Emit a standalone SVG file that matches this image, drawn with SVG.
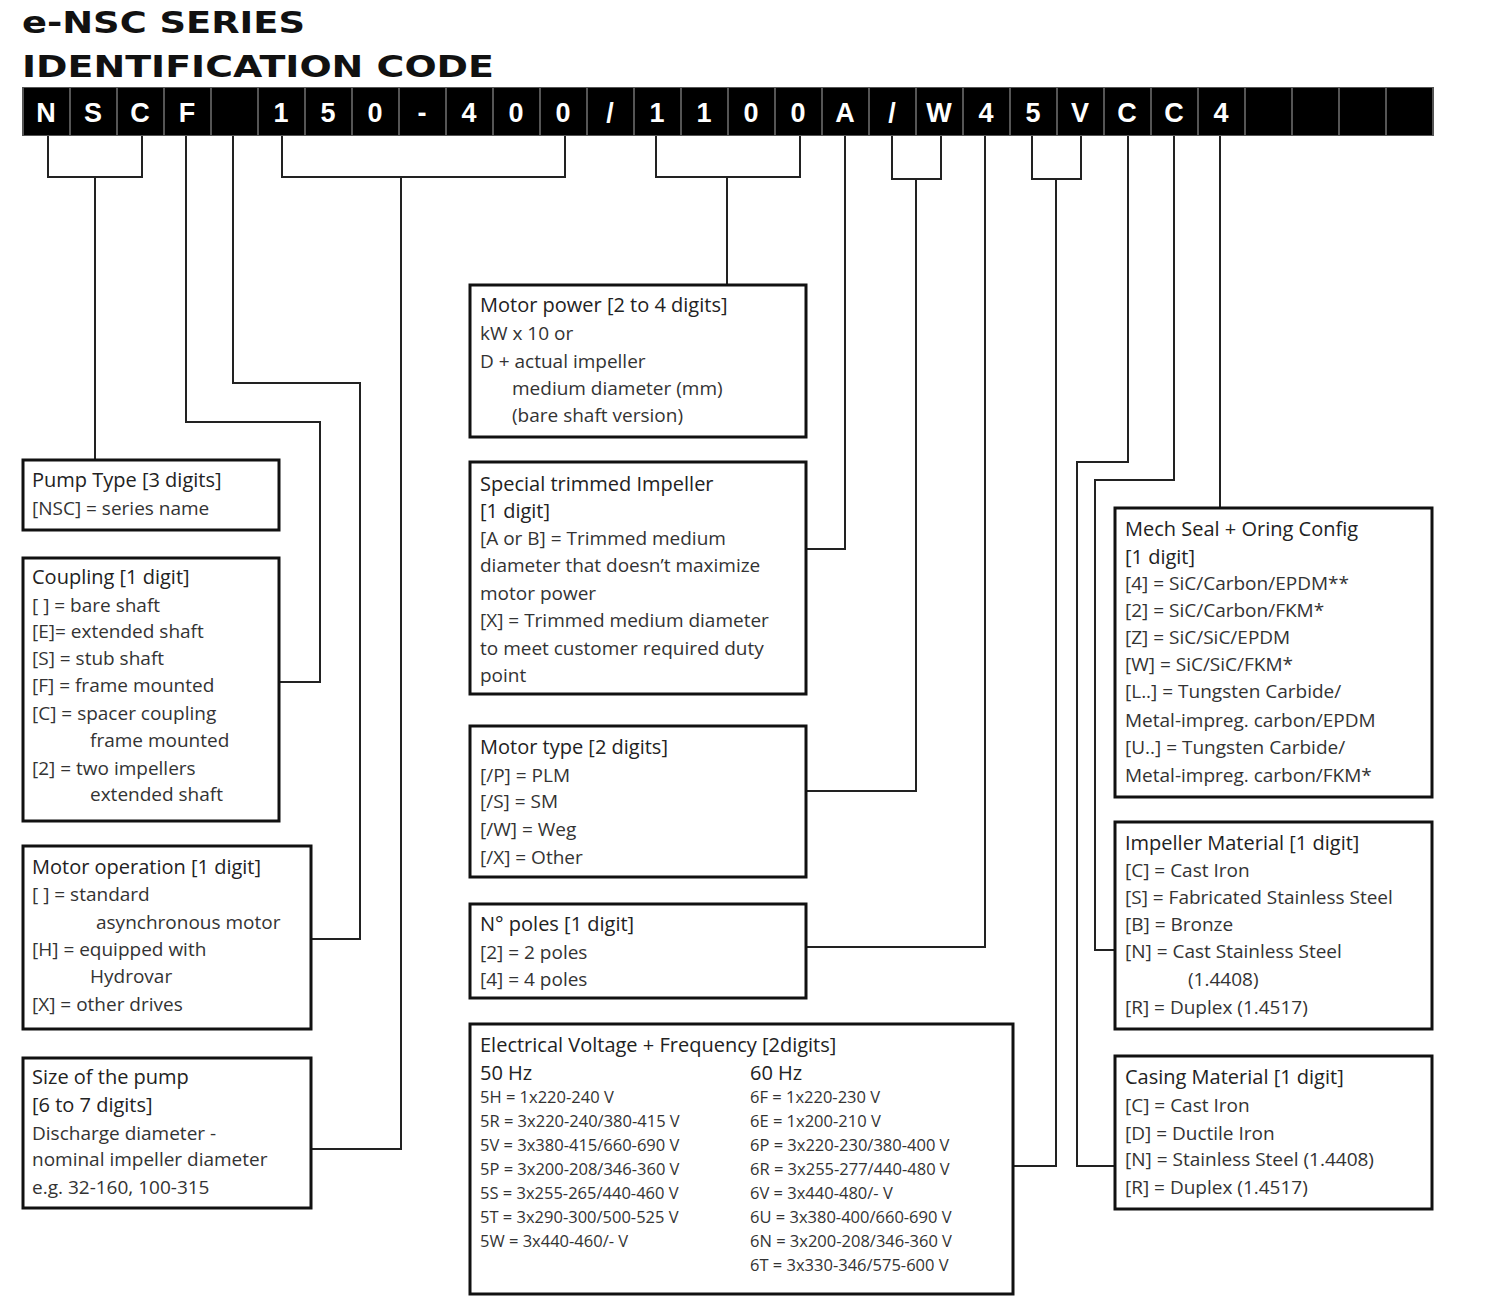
<svg xmlns="http://www.w3.org/2000/svg" width="1500" height="1314" viewBox="0 0 1500 1314">
<style>
.bg{fill:#fff}
.cell{fill:#000}
.ct{fill:#fff;font-family:"Liberation Sans",Arial,sans-serif;font-weight:bold;font-size:27px;text-anchor:middle}
.title{font-family:"DejaVu Sans",Verdana,sans-serif;font-weight:bold;font-size:31px;fill:#111}
.box{fill:#fff;stroke:#111;stroke-width:3}
.sh{fill:none;stroke:#bbb;stroke-width:1.5}
.t{font-family:"Open Sans","Noto Sans",sans-serif;font-size:19px;fill:#333}
.h{font-family:"Open Sans","Noto Sans",sans-serif;font-size:20px;fill:#222}
.s{font-family:"Open Sans","Noto Sans",sans-serif;font-size:16.5px;fill:#333}
.c path{fill:none;stroke:#222;stroke-width:2}
</style>
<rect class="bg" width="1500" height="1314"/>
<text class="title" x="22" y="33" textLength="283" lengthAdjust="spacingAndGlyphs">e-NSC SERIES</text>
<text class="title" x="22" y="77" textLength="472" lengthAdjust="spacingAndGlyphs">IDENTIFICATION CODE</text>
<g id="codebar">
<rect x="22" y="87" width="1412" height="49" fill="#555"/>
<g class="cell">
<rect x="24" y="88" width="45" height="47"/><rect x="71" y="88" width="45" height="47"/><rect x="118" y="88" width="45" height="47"/><rect x="165" y="88" width="45" height="47"/><rect x="212" y="88" width="45" height="47"/><rect x="259" y="88" width="45" height="47"/><rect x="306" y="88" width="45" height="47"/><rect x="353" y="88" width="45" height="47"/><rect x="400" y="88" width="45" height="47"/><rect x="447" y="88" width="45" height="47"/><rect x="494" y="88" width="45" height="47"/><rect x="541" y="88" width="45" height="47"/><rect x="588" y="88" width="45" height="47"/><rect x="635" y="88" width="45" height="47"/><rect x="682" y="88" width="45" height="47"/><rect x="729" y="88" width="45" height="47"/><rect x="776" y="88" width="45" height="47"/><rect x="823" y="88" width="45" height="47"/><rect x="870" y="88" width="45" height="47"/><rect x="917" y="88" width="45" height="47"/><rect x="964" y="88" width="45" height="47"/><rect x="1011" y="88" width="45" height="47"/><rect x="1058" y="88" width="45" height="47"/><rect x="1105" y="88" width="45" height="47"/><rect x="1152" y="88" width="45" height="47"/><rect x="1199" y="88" width="45" height="47"/><rect x="1246" y="88" width="45" height="47"/><rect x="1293" y="88" width="45" height="47"/><rect x="1340" y="88" width="45" height="47"/><rect x="1387" y="88" width="45" height="47"/>
</g>
<text class="ct" y="122"><tspan x="46">N</tspan><tspan x="93">S</tspan><tspan x="140">C</tspan><tspan x="187">F</tspan><tspan x="281">1</tspan><tspan x="328">5</tspan><tspan x="375">0</tspan><tspan x="422">-</tspan><tspan x="469">4</tspan><tspan x="516">0</tspan><tspan x="563">0</tspan><tspan x="610">/</tspan><tspan x="657">1</tspan><tspan x="704">1</tspan><tspan x="751">0</tspan><tspan x="798">0</tspan><tspan x="845">A</tspan><tspan x="892">/</tspan><tspan x="939">W</tspan><tspan x="986">4</tspan><tspan x="1033">5</tspan><tspan x="1080">V</tspan><tspan x="1127">C</tspan><tspan x="1174">C</tspan><tspan x="1221">4</tspan></text>
</g>
<g id="connectors" class="c">
<path d="M48 136V177H142V136M95 177V460"/>
<path d="M186 136V422H320V682H279"/>
<path d="M233 136V383H360V939H311"/>
<path d="M282 136V177H565V136M401 177V1149H311"/>
<path d="M656 136V177H800V136M727 177V285"/>
<path d="M845 136V549H806"/>
<path d="M892 136V179H941V136M916 179V791H806"/>
<path d="M985 136V947H806"/>
<path d="M1032 136V179H1081V136M1056 179V1166H1013"/>
<path d="M1128 136V462H1077V1166H1115"/>
<path d="M1174 136V480H1095V950H1115"/>
<path d="M1220 136V508"/>
</g>
<g id="pump-type"><rect class="box" x="23" y="460" width="256" height="70"/>
<text class="h" x="32" y="487">Pump Type [3 digits]</text><text class="t" x="32" y="515">[NSC] = series name</text></g>
<g id="coupling"><rect class="box" x="23" y="558" width="256" height="263"/>
<text class="h" x="32" y="584">Coupling [1 digit]</text>
<text class="t" x="32" y="612">[ ] = bare shaft</text>
<text class="t" x="32" y="638">[E]= extended shaft</text>
<text class="t" x="32" y="665">[S] = stub shaft</text>
<text class="t" x="32" y="692">[F] = frame mounted</text>
<text class="t" x="32" y="720">[C] = spacer coupling</text>
<text class="t" x="90" y="747">frame mounted</text>
<text class="t" x="32" y="775">[2] = two impellers</text>
<text class="t" x="90" y="801">extended shaft</text></g>
<g id="motor-operation"><rect class="box" x="23" y="846" width="288" height="183"/>
<text class="h" x="32" y="874">Motor operation [1 digit]</text>
<text class="t" x="32" y="901">[ ]  = standard</text>
<text class="t" x="96" y="929">asynchronous motor</text>
<text class="t" x="32" y="956">[H] = equipped with</text>
<text class="t" x="90" y="983">Hydrovar</text>
<text class="t" x="32" y="1011">[X]  = other drives</text></g>
<g id="size"><rect class="box" x="23" y="1058" width="288" height="150"/>
<text class="h" x="32" y="1084">Size of the pump</text>
<text class="h" x="32" y="1112">[6 to 7 digits]</text>
<text class="t" x="32" y="1140">Discharge diameter -</text>
<text class="t" x="32" y="1166">nominal impeller diameter</text>
<text class="t" x="32" y="1194">e.g. 32-160, 100-315</text></g>
<g id="motor-power"><rect class="box" x="470" y="285" width="336" height="152"/>
<text class="h" x="480" y="312">Motor power [2 to 4 digits]</text>
<text class="t" x="480" y="340">kW x 10 or</text>
<text class="t" x="480" y="368">D + actual impeller</text>
<text class="t" x="512" y="395">medium diameter (mm)</text>
<text class="t" x="512" y="422">(bare shaft version)</text></g>
<g id="special-trimmed"><rect class="box" x="470" y="462" width="336" height="232"/>
<text class="h" x="480" y="491">Special trimmed Impeller</text>
<text class="h" x="480" y="518">[1 digit]</text>
<text class="t" x="480" y="545">[A or B] = Trimmed medium</text>
<text class="t" x="480" y="572">diameter that doesn’t  maximize</text>
<text class="t" x="480" y="600">motor power</text>
<text class="t" x="480" y="627">[X] = Trimmed medium diameter</text>
<text class="t" x="480" y="655">to meet customer required duty</text>
<text class="t" x="480" y="682">point</text></g>
<g id="motor-type"><rect class="box" x="470" y="726" width="336" height="151"/>
<text class="h" x="480" y="754">Motor type [2 digits]</text>
<text class="t" x="480" y="782">[/P] = PLM</text>
<text class="t" x="480" y="808">[/S] = SM</text>
<text class="t" x="480" y="836">[/W] = Weg</text>
<text class="t" x="480" y="864">[/X] = Other</text></g>
<g id="poles"><rect class="box" x="470" y="904" width="336" height="94"/>
<text class="h" x="480" y="931">N° poles [1 digit]</text>
<text class="t" x="480" y="959">[2] = 2 poles</text>
<text class="t" x="480" y="986">[4] = 4 poles</text></g>
<g id="voltage"><rect class="box" x="470" y="1024" width="543" height="270"/>
<text class="h" x="480" y="1052">Electrical Voltage + Frequency [2digits]</text>
<text class="h" x="480" y="1080">50 Hz</text><text class="h" x="750" y="1080">60 Hz</text>
<text class="s" x="480" y="1103">5H = 1x220-240 V</text>
<text class="s" x="480" y="1127">5R = 3x220-240/380-415 V</text>
<text class="s" x="480" y="1151">5V = 3x380-415/660-690 V</text>
<text class="s" x="480" y="1175">5P = 3x200-208/346-360 V</text>
<text class="s" x="480" y="1199">5S = 3x255-265/440-460 V</text>
<text class="s" x="480" y="1223">5T = 3x290-300/500-525 V</text>
<text class="s" x="480" y="1247">5W = 3x440-460/- V</text>
<text class="s" x="750" y="1103">6F = 1x220-230 V</text>
<text class="s" x="750" y="1127">6E = 1x200-210 V</text>
<text class="s" x="750" y="1151">6P = 3x220-230/380-400 V</text>
<text class="s" x="750" y="1175">6R = 3x255-277/440-480 V</text>
<text class="s" x="750" y="1199">6V = 3x440-480/- V</text>
<text class="s" x="750" y="1223">6U = 3x380-400/660-690 V</text>
<text class="s" x="750" y="1247">6N = 3x200-208/346-360 V</text>
<text class="s" x="750" y="1271">6T = 3x330-346/575-600 V</text></g>
<g id="mech-seal"><rect class="box" x="1115" y="508" width="317" height="289"/>
<text class="h" x="1125" y="536">Mech Seal +  Oring Config</text>
<text class="h" x="1125" y="564">[1 digit]</text>
<text class="t" x="1125" y="590">[4] = SiC/Carbon/EPDM**</text>
<text class="t" x="1125" y="617">[2] = SiC/Carbon/FKM*</text>
<text class="t" x="1125" y="644">[Z] = SiC/SiC/EPDM</text>
<text class="t" x="1125" y="671">[W] = SiC/SiC/FKM*</text>
<text class="t" x="1125" y="698">[L..] = Tungsten Carbide/</text>
<text class="t" x="1125" y="727">Metal-impreg. carbon/EPDM</text>
<text class="t" x="1125" y="754">[U..] = Tungsten Carbide/</text>
<text class="t" x="1125" y="782">Metal-impreg. carbon/FKM*</text></g>
<g id="impeller-material"><rect class="box" x="1115" y="822" width="317" height="207"/>
<text class="h" x="1125" y="850">Impeller Material [1 digit]</text>
<text class="t" x="1125" y="877">[C]  = Cast Iron</text>
<text class="t" x="1125" y="904">[S]  = Fabricated Stainless Steel</text>
<text class="t" x="1125" y="931">[B]  = Bronze</text>
<text class="t" x="1125" y="958">[N]  = Cast Stainless Steel</text>
<text class="t" x="1188" y="986">(1.4408)</text>
<text class="t" x="1125" y="1014">[R]  = Duplex (1.4517)</text></g>
<g id="casing-material"><rect class="box" x="1115" y="1056" width="317" height="153"/>
<text class="h" x="1125" y="1084">Casing Material [1 digit]</text>
<text class="t" x="1125" y="1112">[C] = Cast Iron</text>
<text class="t" x="1125" y="1140">[D] = Ductile Iron</text>
<text class="t" x="1125" y="1166">[N] = Stainless Steel (1.4408)</text>
<text class="t" x="1125" y="1194">[R] = Duplex (1.4517)</text></g>
</svg>
